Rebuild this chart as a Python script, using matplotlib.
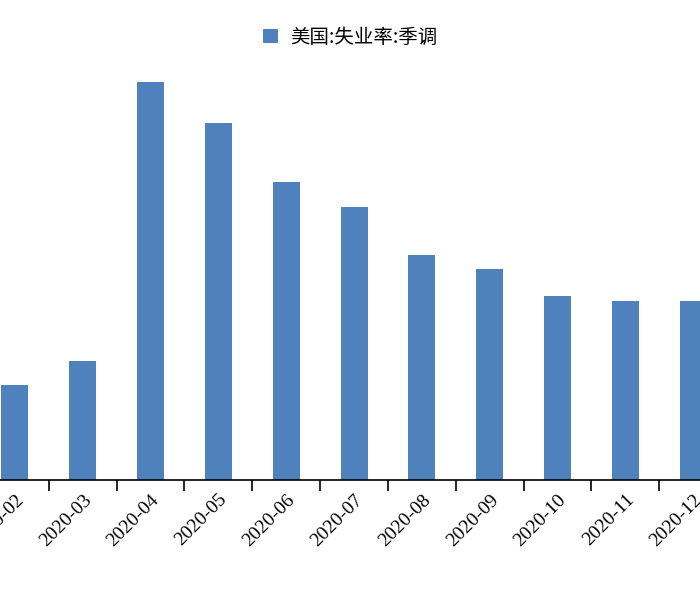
import matplotlib
matplotlib.use("Agg")
import matplotlib.pyplot as plt
import numpy as np

months = ["2020-02","2020-03","2020-04","2020-05","2020-06","2020-07",
          "2020-08","2020-09","2020-10","2020-11","2020-12"]
rate = [3.5, 4.4, 14.7, 13.2, 11.0, 10.1, 8.3, 7.8, 6.8, 6.6, 6.6]

fig = plt.figure(figsize=(7, 6), dpi=100)
ax = fig.add_axes([0, 0.2, 1, 0.722])
x = np.arange(len(months))
ax.bar(x, rate, width=0.4, color="#4F81BD", label="美国:失业率:季调")
for s in ["top", "right", "left"]:
    ax.spines[s].set_visible(False)
ax.spines["bottom"].set_linewidth(1.2)
ax.set_yticks([])
ax.set_xticks(x)
ax.set_xticklabels(months, rotation=45, ha="right", rotation_mode="anchor",
                   family="Liberation Serif", fontsize=14)
ax.tick_params(axis="x", length=0, pad=8)
ax.set_xticks(np.arange(-0.5, 11, 1), minor=True)
ax.tick_params(axis="x", which="minor", length=8, width=1.2, direction="out")
ax.set_xlim(-0.22, 10.1)
ax.set_ylim(0, 16)
leg = fig.legend(loc="center", bbox_to_anchor=(0.5, 0.938), frameon=False,
                 prop={"family": ["Noto Sans CJK SC", "DejaVu Sans"], "size": 14},
                 handlelength=0.8, handleheight=0.8, handletextpad=0.6)
fig.savefig("out.png", dpi=100)
